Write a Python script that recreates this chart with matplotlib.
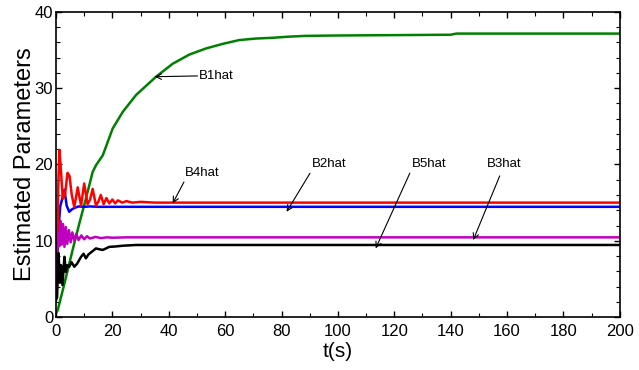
import matplotlib
matplotlib.use("Agg")
import matplotlib.pyplot as plt
from matplotlib.ticker import MultipleLocator

plt.rcParams['font.family'] = ['Liberation Sans', 'DejaVu Sans']

# B1hat (green)
t_b1 = [0, 0.6, 3, 5.9, 8.3, 10.6, 13, 14.2, 16.6, 20.1, 23.7, 28.4, 35.5, 41.4, 47.3,
        53.2, 59.1, 65, 70.9, 76.8, 82.7, 88.6, 100, 120, 140, 142, 200]
y_b1 = [0.5, 0.9, 4.4, 8.8, 12.3, 15.5, 19.0, 19.9, 21.2, 24.7, 26.9, 29.1, 31.5, 33.2,
        34.4, 35.2, 35.8, 36.3, 36.5, 36.6, 36.75, 36.85, 36.9, 36.95, 37.0, 37.15, 37.15]

# B4hat (red)
t_b4 = [0, 0.4, 0.8, 1.2, 1.8, 2.4, 3.2, 4.1, 4.8, 5.6, 6.5, 7.7, 8.9, 10.0, 11.2,
        12.1, 13.0, 14.2, 15.1, 15.9, 16.9, 17.9, 18.9, 20, 21, 22, 23.5, 25, 27, 30,
        35, 200]
y_b4 = [3, 8, 17, 21.9, 19, 15.5, 16, 18.9, 18.5, 16, 14.4, 17, 14.6, 17.5, 14.8, 15.4,
        16.8, 14.6, 15.2, 16, 14.8, 15.6, 14.9, 15.4, 14.9, 15.3, 15, 15.2, 15, 15.1,
        15, 15]

# B2hat (blue)
t_b2 = [0, 0.5, 1, 1.5, 2, 3, 3.8, 4.7, 5.6, 6.5, 8, 10, 12, 15, 200]
y_b2 = [5, 8, 12, 14.5, 15.2, 16.7, 14.6, 13.8, 14.1, 14.3, 14.5, 14.45, 14.5, 14.45,
        14.45]

# B3hat (magenta)
t_b3 = [0, 0.4, 0.8, 1.2, 1.6, 2.0, 2.5, 3.0, 3.5, 4.0, 4.6, 5.2, 5.8, 6.5, 7.2, 8,
        9, 10, 11, 12, 14, 16, 18, 20, 25, 200]
y_b3 = [4.9, 8, 11, 9.3, 12.6, 9.5, 12.2, 9.2, 11.8, 9.6, 11.4, 9.8, 11.1, 10, 10.9,
        10.1, 10.7, 10.2, 10.6, 10.3, 10.5, 10.35, 10.45, 10.4, 10.45, 10.45]

# B5hat (black)
t_b5 = [0, 0.4, 0.9, 1.4, 1.8, 2.3, 3.0, 3.5, 4.0, 4.7, 5.5, 6.5, 7.5, 8.9, 9.8,
        10.6, 11.5, 12.5, 14.2, 15.2, 16.6, 18.9, 21, 23.6, 28.4, 200]
y_b5 = [2.2, 2.6, 8.4, 4.5, 6.8, 4.2, 7.9, 5.9, 6.8, 6.6, 7.2, 6.6, 7.0, 7.9, 8.3,
        7.7, 8.2, 8.5, 9.0, 8.9, 8.8, 9.2, 9.25, 9.35, 9.45, 9.45]

# annotations: label, text anchor (t, y), arrow tail (t, y), arrow tip (t, y)
labels = ['B1hat', 'B4hat', 'B2hat', 'B5hat', 'B3hat']
text_pos = [(50.7, 31.6), (45.7, 18.1), (90.7, 19.3), (126.1, 19.3), (152.8, 19.3)]
tail_pos = [(50.2, 31.6), (45.4, 17.7), (90.1, 18.85), (125.5, 18.85), (157.4, 18.5)]
tip_pos = [(35, 31.5), (41.4, 14.9), (81.8, 13.8), (113.4, 9.0), (148, 10.1)]


def plot_params():
    fig = plt.figure(figsize=(6.39, 3.70), dpi=100)
    ax = fig.add_axes([0.0876, 0.143, 0.8824, 0.825])

    ax.plot(t_b1, y_b1, color='#008000', lw=1.8)
    ax.plot(t_b2, y_b2, color='#0000ff', lw=1.8)
    ax.plot(t_b4, y_b4, color='#ff0000', lw=1.8)
    ax.plot(t_b3, y_b3, color='#c000c0', lw=1.8)
    ax.plot(t_b5, y_b5, color='#000000', lw=1.8)

    for lab, tp, tl, hp in zip(labels, text_pos, tail_pos, tip_pos):
        va = 'center' if lab == 'B1hat' else 'bottom'
        ax.annotate('', xy=hp, xytext=tl,
                    arrowprops=dict(arrowstyle='->', color='black', lw=0.8,
                                    shrinkA=0, shrinkB=0))
        ax.text(tp[0], tp[1], lab, ha='left', va=va, fontsize=9.5)

    ax.set_xlim(0, 200)
    ax.set_ylim(0, 40)
    ax.xaxis.set_major_locator(MultipleLocator(20))
    ax.xaxis.set_minor_locator(MultipleLocator(10))
    ax.yaxis.set_major_locator(MultipleLocator(10))
    ax.yaxis.set_minor_locator(MultipleLocator(2))
    ax.tick_params(which='both', direction='in', top=True, right=True, labelsize=12)
    ax.tick_params(axis='x', pad=5)
    ax.tick_params(axis='y', pad=2)
    ax.tick_params(which='major', length=4, width=1)
    ax.tick_params(which='minor', length=3, width=0.8)
    for s in ax.spines.values():
        s.set_linewidth(1.2)

    ax.set_xlabel('t(s)', fontsize=15, labelpad=2)
    ax.set_ylabel('Estimated Parameters', fontsize=17, labelpad=-1)

    fig.savefig('out.png', dpi=100)


if __name__ == "__main__":
    plot_params()
